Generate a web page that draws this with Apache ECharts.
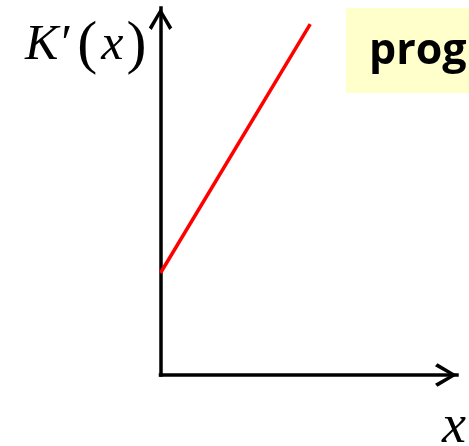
<!DOCTYPE html>
<html>
<head>
<meta charset="utf-8">
<script src="https://cdn.jsdelivr.net/npm/echarts@6/dist/echarts.min.js"></script>
<style>
  html, body { margin: 0; padding: 0; background: #fff; }
  #chart { width: 469px; height: 446px; }
</style>
</head>
<body>
<div id="chart"></div>
<script>
// the straight line K'(x), two end points in axis units (0..10)
const lineX = [0, 5.05]
const lineY = [2.78, 9.56]
const xName = 'x'
const tagText = 'prog'

// open chevron arrow head, drawn pointing up
const chevron = 'path://M12,0 L24,20 L21,22.5 L12,6.5 L3,22.5 L0,20 Z'

const chart = echarts.init(document.getElementById('chart'))

const axisCommon = {
  type: 'value',
  min: 0,
  max: 10,
  splitLine: { show: false },
  axisTick: { show: false },
  axisLabel: { show: false },
  axisLine: {
    show: true,
    symbol: ['none', chevron],
    symbolSize: [24, 22],
    symbolOffset: [0, -11],
    lineStyle: { color: '#000', width: 3.5, cap: 'square' }
  }
}

const option = {
  animation: false,
  backgroundColor: '#fff',
  title: {
    text: tagText,
    left: 346,
    top: 8,
    padding: [19, 0, 16, 23],
    textStyle: {
      fontFamily: 'Open Sans',
      fontWeight: 'bold',
      fontSize: 43,
      lineHeight: 50,
      color: '#000'
    }
  },
  grid: { left: 160.5, right: 12, top: 8, bottom: 71 },
  xAxis: axisCommon,
  yAxis: axisCommon,
  series: [{
    type: 'line',
    data: lineX.map((x, i) => [x, lineY[i]]),
    symbol: 'none',
    lineStyle: { color: '#ff0000', width: 3.5 }
  }],
  graphic: [
    {
      // yellow tag box behind the title, running off the right edge
      type: 'rect',
      z: 0,
      shape: { x: 346, y: 8, width: 140, height: 85 },
      style: { fill: '#ffffcc' }
    },
    {
      type: 'text',
      left: 25,
      top: 16,
      style: {
        text: '{k|K′}{p|(}{v|x}{p|)}',
        rich: {
          k: { fontFamily: 'Liberation Serif', fontStyle: 'italic', fontSize: 50, padding: [0, 8, 0, 0] },
          p: { fontFamily: 'Liberation Serif', fontSize: 60 },
          v: { fontFamily: 'Liberation Serif', fontStyle: 'italic', fontSize: 50, padding: [0, 3, 0, 4] }
        },
        fill: '#000'
      }
    },
    {
      type: 'text',
      left: 442,
      top: 401,
      style: {
        text: xName,
        fontFamily: 'Liberation Serif',
        fontStyle: 'italic',
        fontSize: 54,
        fill: '#000'
      }
    }
  ]
}

chart.setOption(option)
</script>
</body>
</html>
